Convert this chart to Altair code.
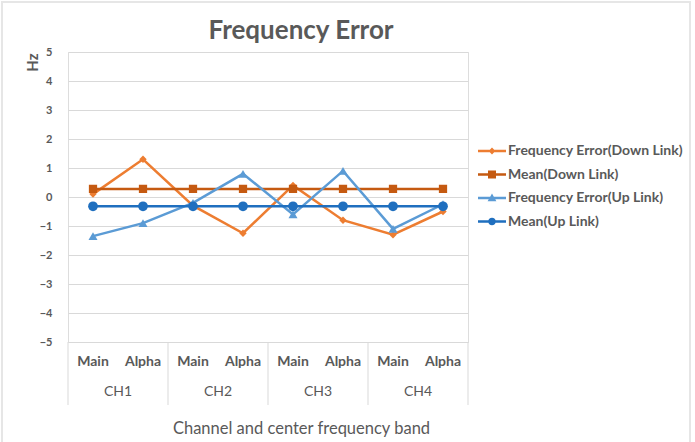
import altair as alt
import pandas as pd

channels = ["CH1", "CH1", "CH2", "CH2", "CH3", "CH3", "CH4", "CH4"]
bands = ["Main", "Alpha", "Main", "Alpha", "Main", "Alpha", "Main", "Alpha"]
series_names = ["Frequency Error(Down Link)", "Mean(Down Link)",
                "Frequency Error(Up Link)", "Mean(Up Link)"]
freq_err_down = [0.1, 1.3, -0.3, -1.25, 0.4, -0.8, -1.3, -0.5]
mean_down = [0.28, 0.28, 0.28, 0.28, 0.28, 0.28, 0.28, 0.28]
freq_err_up = [-1.35, -0.9, -0.2, 0.8, -0.6, 0.9, -1.1, -0.25]
mean_up = [-0.32, -0.32, -0.32, -0.32, -0.32, -0.32, -0.32, -0.32]
colors = ["#ED7D31", "#C55A11", "#5B9BD5", "#1F6FBF"]
shapes = ["diamond", "square", "triangle-up", "circle"]
marker_sizes = [55, 95, 95, 85]
y_ticks = [-5, -4, -3, -2, -1, 0, 1, 2, 3, 4, 5]
title_text = "Frequency Error"
y_title = "Hz"
x_title = "Channel and center frequency band"

# legend glyphs: a short line segment with the series marker on it
seg = "M-7,-0.6H7V0.6H-7Z"
legend_glyphs = [
    seg + "M0,-1.7L1.7,0L0,1.7L-1.7,0Z",
    seg + "M-2,-2H2V2H-2Z",
    seg + "M0,-2.2L2.2,1.6H-2.2Z",
    seg + "M-1.9,0A1.9,1.9 0 1,1 1.9,0A1.9,1.9 0 1,1 -1.9,0Z",
]

FONT = "Lato"
GRAY = "#595959"

series_values = [freq_err_down, mean_down, freq_err_up, mean_up]
rows = []
for s, vals in zip(series_names, series_values):
    for i, v in enumerate(vals):
        rows.append({"idx": i, "band": bands[i], "channel": channels[i],
                     "series": s, "value": v})
df = pd.DataFrame(rows)

cat_df = pd.DataFrame({"idx": list(range(len(bands))), "band": bands, "channel": channels})
ch_df = cat_df.groupby("channel", as_index=False)["idx"].agg(["min", "max"]).reset_index()
ch_df["mid"] = (ch_df["min"] + ch_df["max"]) / 2
bounds = sorted(set([m - 0.5 for m in ch_df["min"]] + [m + 0.5 for m in ch_df["max"]]))
bound_df = pd.DataFrame({"b": bounds})

xscale = alt.Scale(domain=[-0.5, len(bands) - 0.5])
x_axis = alt.Axis(labels=False, ticks=False, domain=False, grid=False,
                  title=x_title, titleFont=FONT, titleFontSize=16.5,
                  titleFontWeight="normal", titleColor=GRAY,
                  titleX=233, titleY=86, titleAlign="center", titleBaseline="middle")
x_enc = alt.X("idx:Q", scale=xscale, axis=x_axis)
y_enc = alt.Y("value:Q", scale=alt.Scale(domain=[-5, 5]),
              axis=alt.Axis(values=y_ticks, grid=True, gridColor="#D9D9D9",
                            domain=False, ticks=False, labelPadding=16,
                            labelFont=FONT, labelFontSize=11, labelFontWeight="bold",
                            labelColor=GRAY, title=y_title, titleAngle=270,
                            titleX=-36, titleY=10, titleAlign="center",
                            titleBaseline="middle", titleFont=FONT,
                            titleFontSize=15, titleFontWeight="bold",
                            titleColor=GRAY))

color_scale = alt.Scale(domain=series_names, range=colors)

lines = alt.Chart(df).mark_line(strokeWidth=2.5).encode(
    x=x_enc, y=y_enc,
    color=alt.Color("series:N", scale=color_scale, legend=None),
)
points = alt.Chart(df).mark_point(filled=True, opacity=1).encode(
    x=x_enc, y=y_enc,
    color=alt.Color("series:N", scale=color_scale, legend=None),
    shape=alt.Shape("series:N", scale=alt.Scale(domain=series_names, range=shapes),
                    legend=None),
    size=alt.Size("series:N", scale=alt.Scale(domain=series_names, range=marker_sizes),
                  legend=None),
)

leg = alt.Legend(title=None, orient="none", legendX=417, legendY=92,
                 symbolSize=16, symbolStrokeWidth=0, symbolOpacity=1,
                 labelFont=FONT, labelFontSize=14, labelFontWeight="bold",
                 labelColor=GRAY, labelOffset=9, rowPadding=9.5, labelLimit=300)
legend_layer = alt.Chart(df).transform_filter("false").mark_point(
    filled=True, opacity=1).encode(
    x=x_enc, y=y_enc,
    color=alt.Color("series:N", scale=color_scale, legend=leg),
    shape=alt.Shape("series:N", scale=alt.Scale(domain=series_names, range=legend_glyphs),
                    legend=leg),
)

band_text = alt.Chart(cat_df).mark_text(font=FONT, fontSize=14, fontWeight="bold",
                                        color=GRAY, baseline="middle").encode(
    x=alt.X("idx:Q", scale=xscale), y=alt.value(310), text="band:N")
ch_text = alt.Chart(ch_df).mark_text(font=FONT, fontSize=14, fontWeight="normal",
                                     color=GRAY, baseline="middle").encode(
    x=alt.X("mid:Q", scale=xscale), y=alt.value(340), text="channel:N")
seps = alt.Chart(bound_df).mark_rule(color="#D9D9D9", strokeWidth=1).encode(
    x=alt.X("b:Q", scale=xscale), y=alt.value(290), y2=alt.value(353))
frame = alt.Chart(pd.DataFrame({"f": [0]})).mark_rect(
    fill=None, stroke="#E6E6E6", strokeWidth=2).encode(
    x=alt.value(-66), x2=alt.value(622), y=alt.value(-50), y2=alt.value(394))
title = alt.Chart(pd.DataFrame({"t": [title_text]})).mark_text(
    font=FONT, fontSize=26, fontWeight="bold", color=GRAY,
    align="center", baseline="alphabetic").encode(
    text="t:N", x=alt.value(233), y=alt.value(-13))

chart = alt.layer(frame, seps, lines, points, legend_layer, band_text, ch_text, title).resolve_scale(
    shape="independent"
).resolve_legend(
    color="independent", shape="independent"
).properties(
    width=400, height=290,
    autosize=alt.AutoSizeParams(type="none"),
    padding={"left": 68, "top": 52, "right": 227, "bottom": 100},
).configure_view(stroke=None).configure(background="white")

chart.save("out.html", embed_options={"renderer": "svg", "actions": False})
